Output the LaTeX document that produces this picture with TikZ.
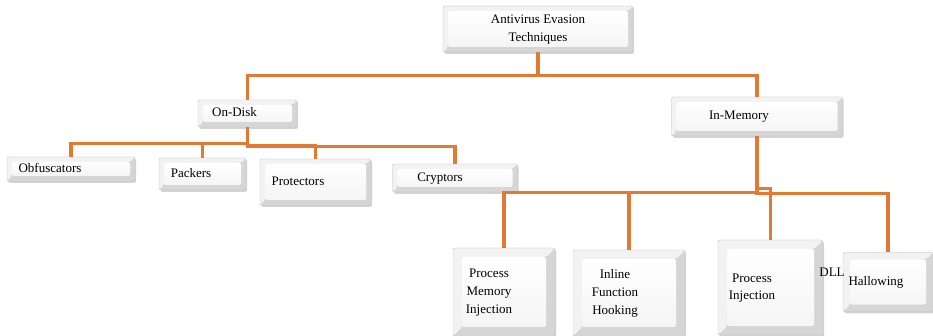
\documentclass[tikz,border=0pt]{standalone}
\usepackage{fontspec}
\setmainfont{Liberation Serif}
\usetikzlibrary{shadows}
\definecolor{linkorange}{RGB}{226,122,52}
\newcommand{\lns}[2]{\begin{tabular}{@{}c@{}}#1\end{tabular}\hspace*{#2pt}}

\begin{document}
\begin{tikzpicture}[
    x = 1pt, y = -1pt,
    font = \fontsize{13}{17.5}\selectfont,
    link/.style = {draw = linkorange, line width = 3.2pt},
    box/.default = 5pt,
    box/.style = {draw = gray!45, line width = 0.4pt, inner sep = 0pt,
        rounded corners = 2pt,
        drop shadow = {shadow xshift = 1.2pt, shadow yshift = -1.8pt, opacity = 0.35},
        path picture = {
            \path (path picture bounding box.south west) coordinate (bsw)
                  (path picture bounding box.north east) coordinate (bne)
                  ([shift={(#1,#1)}]bsw) coordinate (isw)
                  ([shift={(-#1,-#1)}]bne) coordinate (ine);
            \fill[gray!32] (bsw) rectangle (bne);
            \fill[gray!10] (bsw) -- (isw) -- (isw |- ine) -- (ine) -- (bne) -- (bsw |- bne) -- cycle;
            \shade[top color = white, bottom color = gray!8] (isw) rectangle (ine);
        }}]

\useasboundingbox (0,0) rectangle (933,336);

\node[box, minimum width = 190, minimum height = 46] (root) at (538,29)
    {\lns{Antivirus Evasion\\Techniques}{0}};
\node[box, minimum width = 99, minimum height = 27] (disk) at (247.5,113.5)
    {\lns{On-Disk}{26}};
\node[box, minimum width = 171, minimum height = 39] (mem) at (757,116.5)
    {\lns{In-Memory}{36}};

\node[box, minimum width = 128, minimum height = 24] (obf) at (71,169)
    {\lns{Obfuscators}{42}};
\node[box, minimum width = 87, minimum height = 32] (pack) at (202.5,174)
    {\lns{Packers}{23}};
\node[box, minimum width = 111, minimum height = 46] (prot) at (315.5,182)
    {\lns{Protectors}{35}};
\node[box, minimum width = 125, minimum height = 28] (cryp) at (455,178)
    {\lns{Cryptors}{30}};

\node[box = 9pt, minimum width = 102, minimum height = 88] (pmi) at (504,292)
    {\lns{Process\\Memory\\Injection}{30}};
\node[box = 9pt, minimum width = 112, minimum height = 86] (ifh) at (629,293)
    {\lns{Inline\\Function\\Hooking}{28}};
\node[box = 9pt, minimum width = 105, minimum height = 95] (pinj) at (770.5,287.5)
    {\lns{Process\\Injection}{37}};
\node[box = 7pt, minimum width = 90, minimum height = 59] (hall) at (888,282)
    {\lns{Hallowing}{24}};
\node (dll) at (832,272) {DLL};

\draw[link] (root.south) -- ++(0,23) -| (disk.north);
\draw[link] (root.south) -- ++(0,23) -| (mem.north);

\draw[link] (disk.south) -- ++(0,16) -| (obf.north);
\draw[link] (disk.south) -- ++(0,16) -| (pack.north);
\draw[link] (disk.south) -- ++(0,18) -| (prot.north);
\draw[link] (disk.south) -- ++(0,19) -| (cryp.north);

\draw[link] (mem.south) -- ++(0,56) -| (pmi.north);
\draw[link] (mem.south) -- ++(0,56) -| (ifh.north);
\draw[link] (mem.south) -- ++(0,52) -| (pinj.north);
\draw[link] (mem.south) -- ++(0,57) -| (hall.north);
\end{tikzpicture}
\end{document}
